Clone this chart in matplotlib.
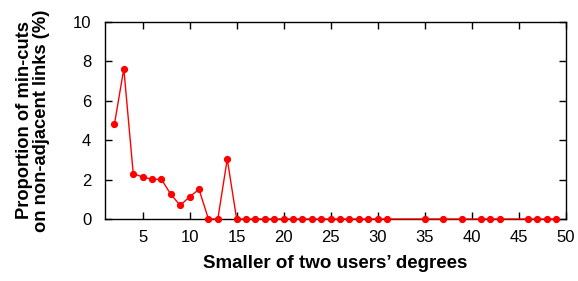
import matplotlib.pyplot as plt

plt.rcParams['font.family'] = ['Liberation Sans', 'DejaVu Sans']
plt.rcParams['font.size'] = 12

# data
degree = [2, 3, 4, 5, 6, 7, 8, 9, 10, 11, 12, 13, 14, 15, 16, 17, 18, 19, 20,
          21, 22, 23, 24, 25, 26, 27, 28, 29, 30, 31, 35, 37, 39, 41, 42, 43,
          46, 47, 48, 49]
proportion = [4.8, 7.62, 2.3, 2.13, 2.01, 2.01, 1.25, 0.69, 1.13, 1.5, 0, 0, 3.04,
              0, 0, 0, 0, 0, 0, 0, 0, 0, 0, 0, 0, 0, 0, 0, 0, 0, 0, 0, 0, 0, 0, 0,
              0, 0, 0, 0]
xticks = [5, 10, 15, 20, 25, 30, 35, 40, 45, 50]
yticks = [0, 2, 4, 6, 8, 10]

fig = plt.figure(figsize=(5.78, 2.81), dpi=100)
ax = fig.add_axes([0.1817, 0.2206, 0.797, 0.7022])

ax.plot(degree, proportion, color='red', linewidth=1.0, marker='o',
        markersize=4.2, clip_on=False, zorder=3)

ax.set_xlim(1, 50)
ax.set_ylim(0, 10)
ax.set_xticks(xticks)
ax.set_yticks(yticks)
ax.tick_params(direction='in', top=True, right=True, length=5, width=1,
               labelsize=12)
ax.tick_params(axis='x', pad=8)
ax.tick_params(axis='y', pad=10)
for s in ax.spines.values():
    s.set_linewidth(1.0)

ax.set_xlabel("Smaller of two users\u2019 degrees", fontweight='bold', fontsize=13.5,
              labelpad=7)
ax.set_ylabel("Proportion of min-cuts\non non-adjacent links (%)", fontweight='bold',
              fontsize=13.2, labelpad=16, linespacing=1.0)

fig.savefig('out.png', dpi=100)
